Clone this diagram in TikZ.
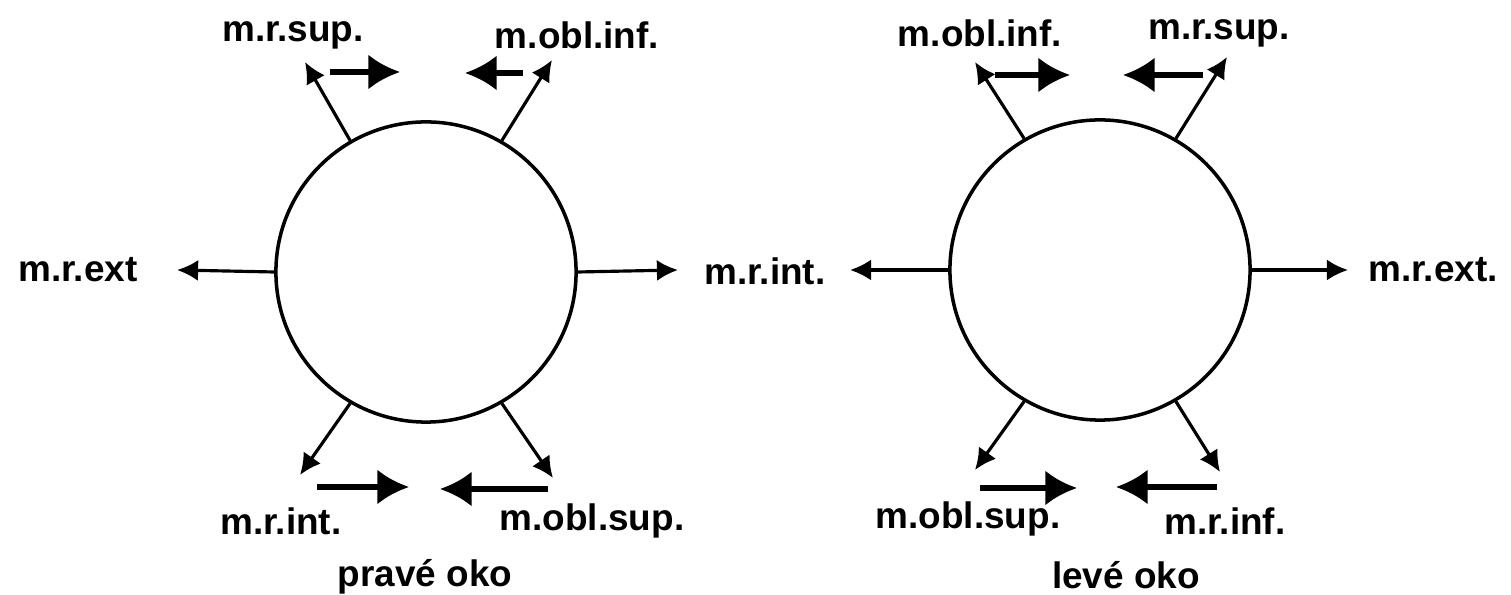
\documentclass[tikz,border=0pt]{standalone}
\usepackage{fontspec}
\setmainfont{Liberation Sans}
\usetikzlibrary{arrows.meta}

\begin{document}
\begin{tikzpicture}[x=0.01cm, y=-0.01cm,
	eye/.style={circle, draw=black, line width=1pt, minimum size=3cm, inner sep=0pt},
	spoke/.style={draw=black, line width=0.9pt, -{Latex[length=6pt, width=6pt]}},
	pull/.style={draw=black, line width=1.5pt, -{Latex[length=9pt, width=10pt]}},
	lbl/.style={font=\fontsize{10.5}{12}\selectfont\bfseries, inner sep=1pt}]
			\useasboundingbox (0,0) rectangle (1511,595);
			% pravé oko
			\node[eye] (P) at (426,272){};
			\coordinate (p1) at (305,62);
			\coordinate (p2) at (552,60);
			\coordinate (p3) at (177,270);
			\coordinate (p4) at (678,270);
			\coordinate (p5) at (300,475);
			\coordinate (p6) at (553,478);
			\node[lbl] (tp1) at (293,35){m.r.sup.};
			\node[lbl] (tp2) at (577,35){m.obl.inf.};
			\node[lbl] (tp3) at (78,270){m.r.ext};
			\node[lbl] (tp4) at (765,271){m.r.int.};
			\node[lbl] (tp5) at (281,521){m.r.int.};
			\node[lbl] (tp6) at (592,521){m.obl.sup.};
			\node[lbl] (tp7) at (425,577){pravé oko};
			
			\path[spoke] (P.120) -- (p1);
			\path[spoke] (P.60) -- (p2);
			\path[spoke] (P.180) -- (p3);
			\path[spoke] (P.0) -- (p4);
			\path[spoke] (P.240) -- (p5);
			\path[spoke] (P.300) -- (p6);
			
			\coordinate (pa) at (330,72);
			\coordinate (pb) at (400,72);
			\coordinate (pc) at (523,73);
			\coordinate (pd) at (465,73);
			\coordinate (pe) at (317,487);
			\coordinate (pf) at (409,487);
			\coordinate (pg) at (548,489);
			\coordinate (ph) at (440,489);
			\path[pull] (pa) -- (pb);
			\path[pull] (pc) -- (pd);
			\path[pull] (pe) -- (pf);
			\path[pull] (pg) -- (ph);
			
			% levé oko
			\node[eye] (L) at (1100,270){};
			\coordinate (l1) at (975,62);
			\coordinate (l2) at (1227,57);
			\coordinate (l3) at (850,270);
			\coordinate (l4) at (1348,270);
			\coordinate (l5) at (975,470);
			\coordinate (l6) at (1220,472);
			\node[lbl] (tl1) at (980,33){m.obl.inf.};
			\node[lbl] (tl2) at (1219,33){m.r.sup.};
			\node[lbl] (tl4) at (1433,270){m.r.ext.};
			\node[lbl] (tl5) at (968,519){m.obl.sup.};
			\node[lbl] (tl6) at (1225,521){m.r.inf.};
			\node[lbl] (tl7) at (1126,575){levé oko};
			
			\path[spoke] (L.120) -- (l1);
			\path[spoke] (L.60) -- (l2);
			\path[spoke] (L.180) -- (l3);
			\path[spoke] (L.0) -- (l4);
			\path[spoke] (L.240) -- (l5);
			\path[spoke] (L.300) -- (l6);
			
			\coordinate (la) at (995,75);
			\coordinate (lb) at (1070,75);
			\coordinate (lc) at (1203,75);
			\coordinate (ld) at (1123,75);
			\coordinate (le) at (980,488);
			\coordinate (lf) at (1077,488);
			\coordinate (lg) at (1217,487);
			\coordinate (lh) at (1116,487);
			\path[pull] (la) -- (lb);
			\path[pull] (lc) -- (ld);
			\path[pull] (le) -- (lf);
			\path[pull] (lg) -- (lh);
			\end{tikzpicture}
\end{document}
